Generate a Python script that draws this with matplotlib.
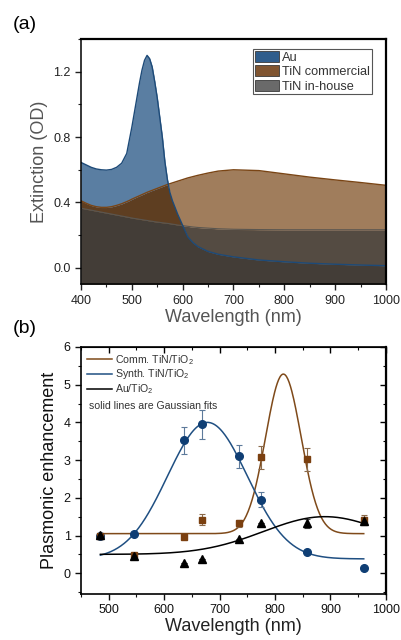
import numpy as np
import matplotlib
matplotlib.use("Agg")
import matplotlib.pyplot as plt
from matplotlib.patches import Patch
from matplotlib.lines import Line2D
from matplotlib.ticker import MultipleLocator

plt.rcParams["font.family"] = ["Liberation Sans", "DejaVu Sans"]
plt.rcParams["mathtext.fontset"] = "custom"
plt.rcParams["mathtext.rm"] = "Liberation Sans"
plt.rcParams["mathtext.it"] = "Liberation Sans"
plt.rcParams["mathtext.default"] = "regular"

# ---------------- (a) extinction spectra ----------------
wavelength_a = [400, 410, 420, 430, 440, 450, 460, 470, 480, 490, 495, 500, 505, 510, 515,
                520, 525, 530, 535, 540, 545, 550, 555, 560, 565, 570, 575, 580, 585, 590,
                600, 610, 620, 630, 650, 670, 700, 750, 800, 850, 900, 950, 1000]
ext_au = [0.645, 0.63, 0.615, 0.605, 0.60, 0.598, 0.602, 0.615, 0.64, 0.70, 0.78, 0.86, 0.95,
          1.04, 1.13, 1.21, 1.27, 1.30, 1.28, 1.23, 1.14, 1.04, 0.92, 0.80, 0.65, 0.54, 0.46,
          0.41, 0.37, 0.33, 0.26, 0.19, 0.155, 0.13, 0.10, 0.083, 0.067, 0.048, 0.037, 0.028,
          0.022, 0.017, 0.013]
ext_tin_comm = [0.41, 0.395, 0.382, 0.374, 0.37, 0.37, 0.374, 0.382, 0.392, 0.405, 0.412, 0.42,
                0.427, 0.434, 0.441, 0.448, 0.455, 0.462, 0.468, 0.474, 0.48, 0.486, 0.492,
                0.498, 0.504, 0.51, 0.515, 0.52, 0.525, 0.53, 0.54, 0.55, 0.558, 0.566, 0.58,
                0.592, 0.60, 0.595, 0.575, 0.555, 0.538, 0.522, 0.505]
ext_tin_house = [0.365, 0.359, 0.353, 0.347, 0.341, 0.335, 0.329, 0.323, 0.317, 0.311, 0.308,
                 0.305, 0.302, 0.30, 0.297, 0.295, 0.292, 0.29, 0.287, 0.285, 0.282, 0.28,
                 0.278, 0.276, 0.274, 0.272, 0.27, 0.267, 0.265, 0.262, 0.258, 0.254, 0.25,
                 0.247, 0.243, 0.239, 0.236, 0.234, 0.233, 0.233, 0.233, 0.233, 0.233]
legend_a = ["Au", "TiN commercial", "TiN in-house"]

# ---------------- (b) plasmonic enhancement ----------------
wavelength_b = [485, 545, 635, 668, 735, 775, 857, 960]
pe_synth = [1.00, 1.05, 3.52, 3.95, 3.10, 1.95, 0.57, 0.13]
pe_synth_err = [0.0, 0.0, 0.35, 0.38, 0.30, 0.20, 0.0, 0.0]
pe_comm = [1.00, 0.48, 0.95, 1.42, 1.32, 3.07, 3.02, 1.42]
pe_comm_err = [0.0, 0.0, 0.0, 0.15, 0.10, 0.30, 0.30, 0.13]
pe_au = [1.02, 0.47, 0.28, 0.38, 0.90, 1.33, 1.33, 1.38]
pe_au_err = [0.0, 0.0, 0.0, 0.0, 0.0, 0.0, 0.12, 0.10]

# Gaussian fit parameters: (offset, amplitude, centre, sigma)
fit_comm = (1.05, 4.23, 815.0, 32.0)
fit_synth = (0.38, 3.62, 678.0, 72.0)
fit_au = (0.50, 1.00, 890.0, 111.0)
legend_b = ["Comm. TiN/TiO$_2$", "Synth. TiN/TiO$_2$", "Au/TiO$_2$"]


def gauss(x, p):
    y0, a, xc, s = p
    return y0 + a * np.exp(-(x - xc) ** 2 / (2 * s ** 2))


fig = plt.figure(figsize=(4.02, 6.4), dpi=100)

# ---- panel (a) ----
ax1 = fig.add_axes([0.2015, 0.556, 0.7585, 0.383])
x = np.array(wavelength_a, float)
A = np.array(ext_au)
C = np.array(ext_tin_comm)
H = np.array(ext_tin_house)
floor = -0.1

c_all = "#433d37"
c_comm_house = "#544b42"
c_au_comm = "#5e3e21"
c_comm = "#a07d5c"
c_au = "#5a7ea2"

lo3 = np.minimum(np.minimum(A, C), H)
ax1.fill_between(x, floor, lo3, color=c_all, lw=0.3, ec=c_all)
mCH = np.minimum(C, H)
ax1.fill_between(x, A, mCH, where=A <= mCH, interpolate=True, color=c_comm_house, lw=0.3, ec=c_comm_house)
mAC = np.minimum(A, C)
ax1.fill_between(x, H, mAC, where=H <= mAC, interpolate=True, color=c_au_comm, lw=0.3, ec=c_au_comm)
xAH = np.maximum(A, H)
ax1.fill_between(x, xAH, C, where=C >= xAH, interpolate=True, color=c_comm, lw=0.3, ec=c_comm)
xCH = np.maximum(C, H)
ax1.fill_between(x, xCH, A, where=A >= xCH, interpolate=True, color=c_au, lw=0.3, ec=c_au)

ax1.plot(x, H, color="#5a5650", lw=0.8)
ax1.plot(x, C, color="#7a4515", lw=1.0)
ax1.plot(x, A, color="#1d4a78", lw=1.0)

ax1.set_xlim(400, 1000)
ax1.set_ylim(-0.1, 1.4)
ax1.xaxis.set_major_locator(MultipleLocator(100))
ax1.xaxis.set_minor_locator(MultipleLocator(50))
ax1.yaxis.set_major_locator(MultipleLocator(0.4))
ax1.yaxis.set_minor_locator(MultipleLocator(0.2))
ax1.yaxis.set_major_formatter(matplotlib.ticker.FormatStrFormatter("%.1f"))
ax1.tick_params(which="both", direction="out", labelsize=9, colors="#222222")
ax1.tick_params(which="major", length=4, width=1.0)
ax1.tick_params(which="minor", length=2.5, width=0.8)
for side in ["top", "right"]:
    ax1.spines[side].set_linewidth(1.6)
for side in ["left", "bottom"]:
    ax1.spines[side].set_linewidth(1.1)
ax1.set_xlabel("Wavelength (nm)", fontsize=13, color="#555555", labelpad=2)
ax1.set_ylabel("Extinction (OD)", fontsize=13, color="#555555", labelpad=4)

handles_a = [Patch(facecolor="#2f5d8c", edgecolor="#3a3a3a", lw=0.6),
             Patch(facecolor="#805531", edgecolor="#3a3a3a", lw=0.6),
             Patch(facecolor="#6a6a6a", edgecolor="#3a3a3a", lw=0.6)]
leg = ax1.legend(handles_a, legend_a, loc="upper right", bbox_to_anchor=(0.955, 0.96),
                 fontsize=9.2, frameon=True, fancybox=False, framealpha=1,
                 edgecolor="#555555", handlelength=1.9, handleheight=0.95,
                 handletextpad=0.25, labelspacing=0.12, borderpad=0.15, borderaxespad=0)
leg.get_frame().set_linewidth(0.8)
for t in leg.get_texts():
    t.set_color("#333333")

fig.text(0.032, 0.962, "(a)", fontsize=14, va="center", ha="left")

# ---- panel (b) ----
ax2 = fig.add_axes([0.2015, 0.0719, 0.7585, 0.386])
xf = np.linspace(485, 960, 400)
ax2.plot(xf, gauss(xf, fit_comm), color="#7f4a1a", lw=1.1)
ax2.plot(xf, gauss(xf, fit_synth), color="#1f4f82", lw=1.1)
ax2.plot(xf, gauss(xf, fit_au), color="black", lw=1.1)

ax2.errorbar(wavelength_b, pe_synth, yerr=pe_synth_err, fmt="o", ms=5.5,
             color="#0f3e74", ecolor="#5d7a9b", elinewidth=0.8, capsize=2.5, capthick=0.8)
ax2.errorbar(wavelength_b, pe_comm, yerr=pe_comm_err, fmt="s", ms=5,
             color="#7b4010", ecolor="#8a6a4a", elinewidth=0.8, capsize=2.5, capthick=0.8)
ax2.errorbar(wavelength_b, pe_au, yerr=pe_au_err, fmt="^", ms=6,
             color="black", ecolor="#444444", elinewidth=0.8, capsize=2.5, capthick=0.8)

ax2.set_xlim(450, 1000)
ax2.set_ylim(-0.55, 6)
ax2.xaxis.set_major_locator(MultipleLocator(100))
ax2.xaxis.set_minor_locator(MultipleLocator(50))
ax2.yaxis.set_major_locator(MultipleLocator(1))
ax2.yaxis.set_minor_locator(MultipleLocator(0.5))
ax2.tick_params(which="both", direction="out", labelsize=9, colors="#111111")
ax2.tick_params(which="major", length=4, width=1.0)
ax2.tick_params(which="minor", length=2.5, width=0.8)
for side in ["left", "bottom", "top"]:
    ax2.spines[side].set_linewidth(1.2)
ax2.spines["right"].set_linewidth(1.6)

top = ax2.secondary_xaxis("top")
top.xaxis.set_major_locator(MultipleLocator(100))
top.xaxis.set_minor_locator(MultipleLocator(50))
top.tick_params(which="both", direction="in", labeltop=False)
top.tick_params(which="major", length=4, width=1.0)
top.tick_params(which="minor", length=2.5, width=0.8)
right = ax2.secondary_yaxis("right")
right.yaxis.set_major_locator(MultipleLocator(1))
right.yaxis.set_minor_locator(MultipleLocator(0.5))
right.tick_params(which="both", direction="in", labelright=False)
right.tick_params(which="major", length=4, width=1.0)
right.tick_params(which="minor", length=2.5, width=0.8)

ax2.set_xlabel("Wavelength (nm)", fontsize=13, color="#222222", labelpad=1)
ax2.set_ylabel("Plasmonic enhancement", fontsize=13, color="#111111", labelpad=4)

handles_b = [Line2D([], [], color="#7f4a1a", lw=1.1),
             Line2D([], [], color="#1f4f82", lw=1.1),
             Line2D([], [], color="black", lw=1.1)]
leg2 = ax2.legend(handles_b, legend_b, loc="upper left", bbox_to_anchor=(0.0, 1.0),
                  fontsize=7.6, frameon=False, handlelength=2.4, handletextpad=0.25,
                  labelspacing=0.08, borderpad=0.35, borderaxespad=0.2)
for t in leg2.get_texts():
    t.set_color("#333333")
ax2.text(0.026, 0.762, "solid lines are Gaussian fits", transform=ax2.transAxes,
         fontsize=7.6, color="#333333", va="center", ha="left")

fig.text(0.032, 0.487, "(b)", fontsize=14, va="center", ha="left")

fig.savefig("out.png", dpi=100)
